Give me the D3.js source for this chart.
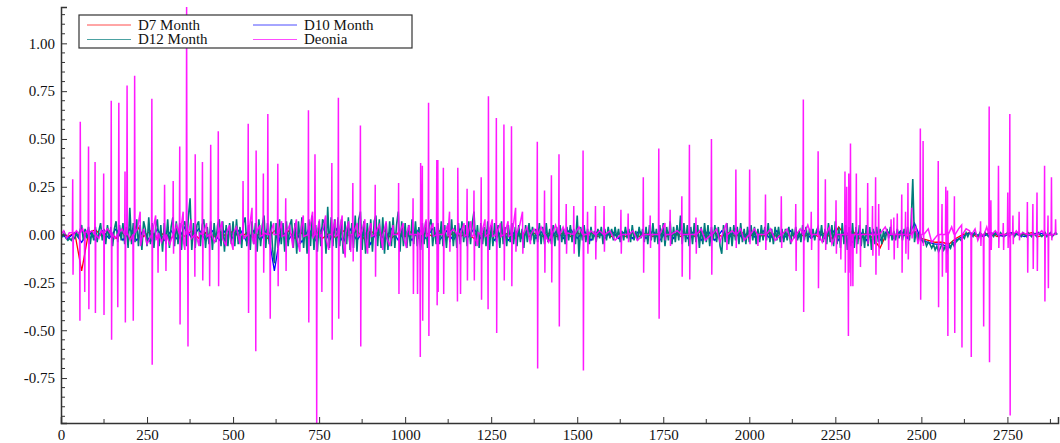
<!DOCTYPE html>
<head>
  <meta charset="utf-8">
  <script src="https://cdn.jsdelivr.net/npm/d3@7"></script>
  <style>
    body { margin: 0; background: #fff; }
    text { font-family: "Liberation Serif", "Times New Roman", Times, "Nimbus Roman", "DejaVu Serif", "Noto Serif", FreeSerif, serif; }
  </style>
</head>
<body>
<script>

// series names and colours, in legend order
var seriesNames = ["D7 Month", "D10 Month", "D12 Month", "Deonia"]
var seriesColors = ["#ff0000", "#0000ff", "#007b7b", "#ff00ff"]

// D7 and D10 sampled every 20 steps, D12 every 5 steps
var d7Step = 20
var d7 = [
  0, -0.01, 0.01, -0.19, 0.01, 0.025, -0.01, 0.02, -0.02, 0.01,
  -0.02, 0.05, -0.01, 0.02, -0.02, 0.01, -0.02, 0.02, -0.01, 0.02,
  -0.02, 0.01, -0.02, 0.02, -0.01, 0.02, -0.02, 0.01, -0.02, 0.01,
  -0.02, 0.02, -0.01, 0.02, -0.02, 0.01, -0.02, 0.02, -0.02, 0.01,
  -0.02, 0.02, -0.01, 0.02, -0.02, 0.02, -0.01, 0.02, -0.02, 0.01,
  -0.01, 0.02, -0.02, 0.01, -0.01, 0.02, -0.02, 0.01, -0.01, 0.01,
  -0.02, 0.01, -0.01, 0.02, -0.01, 0.01, -0.02, 0.01, -0.01, 0.01,
  -0.01, 0.01, -0.01, 0.01, -0.01, 0.01, -0.01, 0.01, -0.01, 0.01,
  -0.01, 0.01, -0.01, 0.01, -0.01, 0.01, -0.01, 0.01, -0.01, 0.01,
  -0.01, 0.01, -0.01, 0.02, -0.01, 0.01, -0.01, 0.01, -0.01, 0.01,
  -0.01, 0.01, -0.01, 0.01, -0.01, 0.01, -0.01, 0.01, -0.01, 0.01,
  -0.01, 0.01, -0.02, 0.04, -0.01, 0.02, -0.02, 0.01, -0.02, -0.07,
  0.01, -0.01, 0.01, -0.01, 0.02, -0.02, -0.03, -0.04, -0.04, -0.05,
  -0.02, 0, 0.01, -0.01, 0, 0.01, -0.01, 0, 0.01, 0,
  0, 0.01, -0.01, 0, 0
]

var d10Step = 20
var d10 = [
  0, -0.02, 0.01, -0.04, 0.02, -0.03, 0.02, -0.02, 0.03, -0.03,
  0.03, -0.03, 0.02, -0.04, 0.03, -0.03, 0.02, -0.03, 0.04, -0.02,
  0.03, -0.03, 0.02, -0.03, 0.03, -0.02, 0.03, -0.04, 0.02, -0.03,
  0.03, -0.19, 0.03, -0.03, 0.02, -0.04, 0.03, -0.03, 0.04, -0.03,
  0.03, -0.04, 0.03, -0.03, 0.02, -0.05, 0.03, -0.03, 0.03, -0.03,
  0.02, -0.03, 0.03, -0.02, 0.03, -0.03, 0.02, -0.03, 0.03, -0.02,
  0.03, -0.02, 0.03, -0.03, 0.02, -0.03, 0.02, -0.02, 0.03, -0.02,
  0.02, -0.03, 0.02, -0.02, 0.03, -0.02, 0.02, -0.03, 0.02, -0.02,
  0.02, -0.02, 0.02, -0.02, 0.02, -0.02, 0.02, -0.03, 0.02, -0.02,
  0.03, -0.02, 0.02, -0.03, 0.02, -0.03, 0.02, -0.02, 0.03, -0.02,
  0.02, -0.02, 0.02, -0.02, 0.02, -0.02, 0.02, -0.02, 0.02, -0.02,
  0.02, -0.02, 0.03, -0.03, 0.02, -0.04, 0.02, -0.03, 0.02, -0.03,
  0.02, -0.02, 0.02, -0.02, 0.06, -0.03, -0.04, -0.05, -0.05, -0.07,
  -0.03, -0.01, 0.01, 0, -0.01, 0.01, 0, -0.01, 0.01, 0,
  -0.01, 0, 0.01, 0, 0
]

var d12Step = 5
var d12 = [
  0, -0.01, 0.01, -0.02, -0.03, -0.02, -0.03, -0.01, -0.02, 0.01, -0.01, 0.02, 0.05, -0.03, 0.03, -0.02, 0.04, -0.05, 0.02, -0.03,
  0.04, -0.04, 0.02, 0.06, -0.03, 0.03, -0.05, 0.05, -0.02, 0.04, -0.06, 0.03, 0.07, -0.04, 0.05, -0.03, 0.06, -0.05, 0.04, -0.07,
  0.14, -0.05, 0.06, -0.04, 0.08, -0.06, 0.05, -0.08, 0.07, 0.03, -0.06, 0.09, -0.05, 0.06, -0.07, 0.04, 0.08, -0.06, 0.05, -0.09,
  0.06, -0.05, 0.08, -0.07, 0.04, 0.09, -0.06, 0.07, -0.05, 0.06, -0.08, 0.05, 0.07, -0.06, 0.09, 0.19, -0.08, 0.06, -0.07, 0.05,
  0.07, -0.06, 0.05, 0.08, -0.07, 0.04, -0.05, 0.07, -0.08, 0.06, -0.04, 0.05, 0.08, -0.06, 0.07, -0.09, 0.05, -0.06, 0.06, -0.05,
  0.07, -0.06, 0.08, -0.05, 0.04, -0.07, 0.06, 0.09, -0.06, 0.05, -0.08, 0.07, -0.05, 0.06, -0.09, 0.08, -0.06, 0.05, 0.1, -0.07,
  0.06, -0.05, 0.07, -0.08, -0.15, 0.06, -0.07, 0.08, -0.05, 0.06, -0.09, 0.07, -0.06, 0.05, 0.08, -0.07, 0.06, -0.1, 0.07, -0.05,
  0.09, -0.07, 0.06, -0.1, 0.08, -0.06, 0.1, -0.08, 0.05, -0.09, 0.07, -0.06, 0.08, 0.06, -0.1, 0.145, -0.07, 0.09, -0.06, 0.08,
  -0.07, 0.09, -0.06, 0.08, -0.1, 0.07, -0.05, 0.09, -0.08, 0.06, -0.07, 0.1, -0.09, 0.08, 0.12, -0.08, 0.07, -0.1, 0.06, -0.07,
  0.08, -0.09, 0.07, 0.1, -0.06, 0.08, -0.07, 0.09, -0.1, 0.06, -0.08, 0.07, -0.06, 0.09, -0.07, 0.05, 0.12, -0.09, 0.07, -0.06,
  0.06, -0.07, 0.05, -0.06, 0.08, -0.05, 0.07, -0.06, 0.04, -0.08, 0.06, -0.05, 0.07, -0.07, 0.05, 0.08, -0.06, 0.04, -0.05, 0.06,
  -0.05, 0.07, -0.06, 0.05, -0.07, 0.06, -0.04, 0.08, -0.06, 0.05, -0.07, 0.06, -0.05, 0.07, -0.04, 0.05, -0.06, 0.07, -0.05, 0.06,
  0.12, -0.06, 0.05, -0.07, 0.06, -0.05, 0.04, -0.06, 0.07, -0.08, 0.05, -0.06, 0.06, -0.04, 0.05, -0.07, 0.07, -0.05, 0.04, -0.06,
  0.05, -0.04, 0.06, -0.05, 0.04, -0.06, 0.05, -0.04, 0.03, -0.07, 0.05, -0.04, 0.06, -0.03, 0.04, -0.05, 0.03, -0.04, 0.06, -0.05,
  0.04, -0.05, 0.06, -0.04, 0.03, -0.05, 0.05, -0.06, 0.04, -0.03, 0.05, -0.04, 0.03, -0.05, 0.04, -0.03, 0.05, -0.04, 0.03, -0.05,
  0.1, -0.115, 0.04, -0.03, 0.05, -0.04, 0.03, -0.05, 0.04, -0.03, 0.02, -0.04, 0.03, -0.02, 0.04, -0.05, 0.03, -0.03, 0.04, -0.02,
  0.03, -0.03, 0.04, -0.02, 0.03, -0.04, 0.02, -0.03, 0.04, -0.02, 0.03, -0.04, 0.05, -0.03, 0.02, -0.03, 0.04, -0.02, 0.03, -0.04,
  0.04, -0.05, 0.05, -0.03, 0.06, -0.04, 0.03, -0.05, 0.05, -0.04, 0.06, -0.06, 0.04, -0.03, 0.07, -0.05, 0.04, -0.04, 0.05, -0.03,
  0.1, -0.05, 0.06, -0.04, 0.05, -0.06, 0.04, -0.05, 0.06, -0.04, 0.05, -0.07, 0.04, -0.05, 0.06, -0.04, 0.05, -0.06, 0.04, -0.03,
  0.05, -0.04, 0.04, -0.06, -0.1, 0.05, -0.04, 0.06, -0.05, 0.04, -0.06, 0.05, -0.03, 0.04, -0.05, 0.06, -0.04, 0.03, -0.05, 0.04,
  -0.04, 0.05, -0.03, 0.04, -0.05, 0.03, -0.04, 0.05, -0.03, 0.04, -0.03, 0.06, -0.04, 0.03, -0.05, 0.04, -0.03, 0.04, -0.04, 0.03,
  -0.04, 0.03, -0.03, 0.04, -0.05, 0.03, -0.02, 0.04, -0.03, 0.02, -0.04, 0.05, -0.03, 0.04, -0.04, 0.03, -0.02, 0.03, -0.03, 0.02,
  0.04, -0.03, 0.05, -0.04, 0.03, -0.05, 0.06, -0.04, 0.05, -0.06, 0.07, -0.05, 0.04, -0.07, 0.06, -0.05, 0.05, -0.08, 0.04, -0.06,
  0.06, -0.07, 0.04, -0.05, 0.05, -0.06, 0.03, -0.07, 0.05, -0.06, 0.04, -0.08, 0.03, -0.05, 0.04, -0.04, 0.03, -0.05, 0.02, -0.03,
  0.03, -0.02, 0.04, -0.03, 0.02, -0.03, 0.03, -0.02, 0.02, -0.03, 0.03, -0.02, 0.04, -0.03, 0.05, 0.29, -0.04, 0.02, -0.03, 0.01,
  -0.02, -0.04, -0.03, -0.06, -0.04, -0.05, -0.07, -0.05, -0.08, -0.06, -0.09, -0.07, -0.05, -0.08, -0.06, -0.09, -0.05, -0.07, -0.04, -0.06,
  -0.04, -0.03, -0.02, -0.03, -0.01, -0.02, 0.01, -0.01, 0.01, 0, -0.01, 0.01, 0, -0.01, 0.01, 0, -0.01, 0.01, 0, -0.01,
  0.01, 0, -0.01, 0.01, 0, -0.01, 0.01, 0, -0.01, 0, 0.01, -0.01, 0, 0.01, -0.01, 0, 0.01, 0, -0.01, 0.01,
  0, -0.01, 0.01, 0, -0.01, 0.01, 0, -0.01, 0.01, 0, -0.01, 0, 0.01, -0.01, 0, 0.01, -0.01, 0, 0.01, 0
]

// Deonia: [step, value], spikes
var deonia = [
  [0,0],[8,0.02],[16,-0.02],[24,0.01],[33,0.01],[34,0.29],[35,-0.21],[36,0],[45,0.02],
  [54,0],[55,-0.45],[56,0.59],[57,0.01],[63,0.03],[68,0],[69,-0.30],[70,0.01],
  [75,0.02],[79,0],[80,0.46],[81,-0.39],[82,0.01],[90,0.02],[98,0],[99,0.38],[100,-0.41],[101,0],
  [110,-0.02],[117,0.02],[123,0],[124,0.32],[125,-0.42],[126,0.01],[135,0.03],[145,0],[146,0.70],[147,-0.55],[148,0.01],
  [156,-0.02],[164,0],[165,-0.38],[166,0],[167,0],[168,0.69],[169,0.01],
  [177,0.03],[185,0],[186,0.33],[187,-0.46],[188,0],[191,0],[192,0.78],[193,0.01],
  [201,-0.03],[209,0],[210,-0.45],[211,0],[213,0],[214,0.83],[215,0.01],
  [222,0.03],[230,0.12],[231,-0.06],[240,0.03],[250,-0.05],[263,0],[264,0.71],[265,-0.68],[266,0.01],
  [275,0.1],[276,-0.03],[281,0],[282,-0.2],[283,0.01],[292,-0.04],
  [300,0],[301,0.26],[302,-0.03],[304,0],[305,-0.19],[306,0],
  [316,-0.05],[325,0],[326,0.28],[327,-0.1],[328,0],[336,0.05],[344,0],[345,0.46],[346,-0.47],[347,0.01],
  [355,0.12],[356,-0.04],[360,-0.08],[361,0.01],[364,0],[365,1.19],[366,0.05],[368,0],[369,-0.585],[370,0],
  [378,0.08],[379,-0.02],[388,0],[389,-0.22],[390,0.42],[391,0.01],
  [401,-0.06],[402,0.01],[410,0],[411,0.38],[412,-0.24],[413,0],
  [423,0.06],[424,-0.01],[431,0],[432,-0.27],[433,0],[434,0],[435,0.47],[436,0.01],
  [446,-0.04],[456,0],[457,0.54],[458,-0.27],[459,0.01],
  [468,0.07],[469,-0.02],[480,-0.06],[481,0.01],[490,0.05],[491,-0.01],[500,-0.08],[501,0.01],[510,0.04],[520,-0.05],[521,0],
  [528,0],[529,0.28],[530,-0.02],[543,0],[544,0.58],[545,-0.41],[546,0.01],
  [555,0.14],[556,-0.02],[560,-0.05],[561,0],[565,0],[566,-0.61],[567,0.44],[568,0.01],
  [578,0.05],[579,-0.01],[587,0],[588,0.32],[589,-0.20],[590,0.01],
  [600,0],[601,0.63],[602,0],[607,0],[608,-0.44],[609,0.01],
  [618,0.06],[619,0],[629,0],[630,0.37],[631,-0.27],[632,0],
  [641,0.07],[642,-0.01],[652,0],[653,0.19],[654,-0.19],[655,0.01],
  [664,0.05],[674,-0.07],[675,0],[684,0.08],[685,-0.01],[694,-0.09],[695,0],[704,0.1],[705,-0.01],
  [718,0],[719,0.65],[720,-0.46],[721,0.01],
  [731,0.12],[732,-0.02],[737,0],[738,0.42],[739,0],[742,0],[743,-0.985],[744,0.01],
  [751,0.08],[752,-0.01],[757,0],[758,-0.30],[759,0.01],[769,0.1],[770,-0.02],[778,-0.08],[779,0],
  [786,0],[787,0.375],[788,-0.55],[789,0.01],[797,0.08],[798,-0.01],[805,0],[806,0.715],[807,-0.44],[808,0],
  [817,0.1],[818,-0.02],[826,-0.12],[827,0.01],[836,0.07],[837,-0.01],[842,-0.09],[843,0],
  [847,0],[848,0.27],[849,-0.14],[850,0.01],[861,0.06],[862,-0.01],[869,0],[870,0.57],[871,-0.585],[872,0],
  [883,0.08],[884,-0.01],[891,-0.1],[892,0.01],[901,0.06],[902,-0.01],[912,0],[913,0.26],[914,-0.22],[915,0.01],
  [925,0.05],[935,-0.08],[936,0],[945,0.07],[946,-0.01],[955,-0.06],[965,0.05],[966,0],
  [980,0],[981,0.27],[982,-0.31],[983,0],[994,0.06],[995,-0.01],[1004,-0.07],[1005,0.01],[1012,0.05],[1013,0],
  [1022,0],[1023,0.19],[1024,-0.31],[1025,0],[1035,0],[1036,-0.31],[1037,0.01],
  [1043,0],[1044,-0.64],[1045,0.375],[1046,0.01],[1049,0],[1050,0.36],[1051,-0.45],[1052,0],
  [1061,0.08],[1062,-0.01],[1067,0],[1068,0.69],[1069,-0.53],[1070,0.01],
  [1081,0.06],[1082,-0.01],[1091,0],[1092,0.39],[1093,-0.37],[1094,0],[1095,0.39],[1096,-0.30],[1097,0],
  [1110,0],[1111,0.35],[1112,-0.31],[1113,0],[1123,0.05],[1124,-0.01],[1129,0.12],[1130,-0.09],[1131,0.01],[1140,0.03],
  [1151,0],[1152,-0.35],[1153,0.35],[1154,0.01],[1160,0],[1161,-0.31],[1162,0.01],
  [1171,0.06],[1172,-0.01],[1179,0],[1180,0.24],[1181,-0.24],[1182,0],
  [1191,0.07],[1192,-0.01],[1199,0],[1200,0.23],[1201,-0.24],[1202,0],
  [1211,-0.06],[1212,0.01],[1220,0],[1221,0.30],[1222,-0.34],[1223,0.01],
  [1232,0.08],[1233,-0.01],[1240,0],[1241,-0.39],[1242,0.724],[1243,0],
  [1253,0.08],[1254,-0.01],[1264,0],[1265,0.61],[1266,-0.515],[1267,0.01],
  [1277,0.06],[1278,-0.01],[1286,0],[1287,0.576],[1288,-0.24],[1289,0],
  [1299,0.07],[1300,-0.01],[1308,0],[1309,0.567],[1310,-0.27],[1311,0],
  [1321,0.14],[1322,-0.09],[1323,0],[1333,0.05],[1341,0.12],[1342,-0.1],[1343,0],
  [1354,0.04],[1364,-0.05],[1365,0],[1374,0.03],[1383,0],[1384,0.485],[1385,-0.70],[1386,0],
  [1395,0.04],[1404,0],[1405,0.23],[1406,-0.20],[1407,0],[1417,-0.04],[1424,0],[1425,0.31],[1426,-0.25],[1427,0],
  [1437,0.05],[1446,0],[1447,0.42],[1448,-0.48],[1449,0],[1459,0.04],[1467,0],[1468,0.16],[1469,-0.10],[1470,0.01],
  [1489,0],[1490,0.15],[1491,-0.10],[1492,0],[1505,0.04],[1516,0],[1517,0.44],[1518,-0.71],[1519,0],
  [1529,0],[1530,0.12],[1531,-0.10],[1532,0],[1540,0.02],[1552,0],[1553,0.15],[1554,-0.13],[1555,0],[1565,0.02],
  [1577,0],[1578,0.15],[1579,-0.09],[1580,0],[1595,0.02],[1610,-0.03],[1626,0],[1627,0.13],[1628,-0.10],[1629,0],
  [1647,0],[1648,0.11],[1649,-0.04],[1650,0],[1662,0.02],[1675,-0.03],[1691,0],[1692,0.30],[1693,-0.20],[1694,0],
  [1711,0],[1712,0.10],[1713,-0.07],[1714,0],[1736,0],[1737,0.45],[1738,-0.44],[1739,0],
  [1755,0.06],[1756,-0.03],[1757,0],[1769,0],[1770,0.13],[1771,-0.06],[1772,0],
  [1790,0.02],[1803,0],[1804,0.20],[1805,-0.22],[1806,0],[1825,0],[1826,0.47],[1827,-0.235],[1828,0],
  [1844,0],[1845,0.09],[1846,-0.10],[1847,0],[1860,0.03],[1872,-0.03],[1889,0],[1890,0.50],[1891,-0.21],[1892,0],
  [1905,0.03],[1915,-0.04],[1925,0.02],[1934,0.06],[1935,-0.08],[1936,0],[1950,0.02],
  [1960,0],[1961,0.34],[1962,-0.07],[1963,0],[1975,0.03],[1985,-0.03],[2000,0],[2001,0.34],[2002,-0.05],[2003,0],
  [2015,0.03],[2024,0],[2025,-0.06],[2026,0],[2046,0],[2047,0.21],[2048,-0.08],[2049,0],
  [2062,0.03],[2075,-0.03],[2092,0],[2093,0.20],[2094,-0.07],[2095,0],[2110,0.03],[2122,-0.04],
  [2134,0],[2135,0.16],[2136,-0.19],[2137,0],[2148,0.03],[2156,0],[2157,0.707],[2158,-0.405],[2159,0],
  [2170,0.05],[2179,0],[2180,0.12],[2181,-0.08],[2182,0],[2199,0],[2200,0.436],[2201,-0.28],[2202,0],
  [2212,-0.04],[2220,0],[2221,0.29],[2222,-0.08],[2223,0],
  [2233,0.04],[2240,-0.05],[2251,0],[2252,0.18],[2253,-0.10],[2254,0],[2265,0],[2266,-0.13],[2267,0],
  [2277,0],[2278,0.33],[2279,-0.20],[2280,0],[2282,0],[2283,0.25],[2284,0],
  [2287,0],[2288,-0.53],[2289,0.32],[2290,-0.20],[2291,0],[2293,0],[2294,0.476],[2295,-0.27],[2296,0],
  [2300,0],[2301,-0.27],[2302,0],[2310,0],[2311,0.32],[2312,-0.10],[2313,0],[2321,0],[2322,0.14],[2323,-0.17],[2324,0],
  [2343,0],[2344,0.27],[2345,-0.05],[2346,0],[2357,0],[2358,0.15],[2359,-0.11],[2360,0],
  [2366,0],[2367,0.30],[2368,-0.21],[2369,0],[2375,0],[2376,0.16],[2377,-0.11],[2378,0],
  [2395,0.04],[2404,0],[2405,-0.08],[2406,0],[2411,0],[2412,0.08],[2413,0],
  [2419,0],[2420,0.09],[2421,-0.13],[2422,0],[2429,0],[2430,0.11],[2431,-0.07],[2432,0],
  [2442,0],[2443,0.21],[2444,-0.20],[2445,0],[2453,0],[2454,0.12],[2455,-0.10],[2456,0],
  [2460,0],[2461,0.27],[2462,-0.13],[2463,0],[2471,0],[2472,0.14],[2473,-0.02],[2474,0],
  [2484,0.04],[2490,-0.05],[2496,0],[2497,0.555],[2498,-0.34],[2499,0],[2504,0],[2505,0.49],[2506,-0.06],[2507,0],
  [2520,0.03],[2530,-0.04],[2548,0],[2549,0.385],[2550,-0.38],[2551,0],[2559,0],[2560,0.16],[2561,-0.22],[2562,0],
  [2570,0],[2571,0.25],[2572,-0.20],[2573,0],[2575,0],[2576,0.23],[2577,-0.53],[2578,0],
  [2588,0.04],[2595,0],[2596,0.20],[2597,-0.515],[2598,0],[2608,0.03],[2617,0.05],[2618,-0.59],[2619,0],
  [2630,0.03],[2640,0.02],[2644,0],[2645,-0.64],[2646,0],[2656,0.03],[2664,-0.03],[2671,0],[2672,0.07],[2673,-0.06],[2674,0],
  [2680,0],[2681,-0.48],[2682,0],[2690,0.04],[2696,0],[2697,0.67],[2698,-0.667],[2699,0],[2701,0],[2702,0.18],[2703,-0.08],[2704,0],
  [2715,0.02],[2723,0],[2724,0.36],[2725,-0.07],[2726,0],[2737,0],[2738,0.06],[2739,-0.08],[2740,0],
  [2750,0],[2751,0.22],[2752,-0.07],[2753,0],[2756,0],[2757,0.63],[2758,-0.946],[2759,0],
  [2765,0],[2766,0.10],[2767,-0.05],[2768,0],[2776,0.02],[2783,0],[2784,0.12],[2785,-0.03],[2786,0],[2795,0.01],
  [2807,0],[2808,0.17],[2809,-0.20],[2810,0],[2823,0],[2824,0.16],[2825,-0.18],[2826,0],
  [2835,0],[2836,0.22],[2837,-0.19],[2838,0],[2850,0.02],[2857,0],[2858,0.36],[2859,-0.35],[2860,0],
  [2867,0],[2868,0.10],[2869,-0.28],[2870,0],[2877,0],[2878,0.30],[2879,-0.03],[2880,0],[2889,0],[2890,0.08],[2891,0]
]

var xTicks = [0, 250, 500, 750, 1000, 1250, 1500, 1750, 2000, 2250, 2500, 2750]
var yTicks = [-0.75, -0.5, -0.25, 0, 0.25, 0.5, 0.75, 1.0]

var margin = {top: 7, right: 2, bottom: 20, left: 61}
var width = 1060 - margin.left - margin.right
var height = 443 - margin.top - margin.bottom

var svg = d3.select("body").append("svg")
            .attr("width", 1060)
            .attr("height", 443)
var g = svg.append("g")
           .attr("transform", "translate(" + margin.left + "," + margin.top + ")")

var x = d3.scaleLinear().domain([0, 2897]).range([0, width])
var y = d3.scaleLinear().domain([-0.985, 1.19]).range([height, 0])

function toPairs(vals, step) {
  return vals.map(function(v, i) { return [i * step, v] })
}

var series = [toPairs(d7, d7Step), toPairs(d10, d10Step), toPairs(d12, d12Step), deonia]

g.append("clipPath").attr("id", "plot")
 .append("rect").attr("y", -7).attr("width", width).attr("height", height + 7)

var line = d3.line()
             .x(function(d) { return x(d[0]) })
             .y(function(d) { return y(d[1]) })

g.append("g").attr("clip-path", "url(#plot)")
 .selectAll("path")
 .data(series)
 .enter()
 .append("path")
 .attr("d", line)
 .attr("fill", "none")
 .attr("stroke", function(d, i) { return seriesColors[i] })
 .attr("stroke-width", function(d, i) { return i == 3 ? 1.5 : (i == 2 ? 1.6 : 1.3) })
 .attr("stroke-opacity", function(d, i) { return i == 3 ? 0.9 : 1 })

// axes: ticks point inward, minor ticks between the labelled ones
var yMinor = d3.range(-0.95, 1.19, 0.05).filter(function(v) {
  return Math.abs(Math.round(v * 4) - v * 4) > 0.01
})
var xMinor = d3.range(125, 2897, 250)

var yAxis = g.append("g")
yAxis.call(d3.axisLeft(y).tickValues(yTicks).tickSize(-6).tickPadding(6)
             .tickFormat(function(d) { return d.toFixed(2) }))
yAxis.append("g").selectAll("line").data(yMinor).enter().append("line")
     .attr("x1", 0).attr("x2", 4)
     .attr("y1", function(d) { return y(d) }).attr("y2", function(d) { return y(d) })
     .attr("stroke", "#333")

var xAxis = g.append("g").attr("transform", "translate(0," + height + ")")
xAxis.call(d3.axisBottom(x).tickValues(xTicks).tickSize(-6).tickPadding(6)
             .tickFormat(d3.format("d")))
xAxis.append("g").selectAll("line").data(xMinor).enter().append("line")
     .attr("x1", function(d) { return x(d) }).attr("x2", function(d) { return x(d) })
     .attr("y1", 0).attr("y2", -4)
     .attr("stroke", "#333")

svg.selectAll(".domain").attr("stroke", "#333").attr("stroke-width", 1.5)
svg.selectAll(".tick line").attr("stroke", "#333")
svg.selectAll(".tick text")
   .attr("font-size", 15)
   .attr("fill", "#111")

// legend
var legend = svg.append("g").attr("transform", "translate(79,15)")
legend.append("rect")
      .attr("width", 333).attr("height", 33)
      .attr("fill", "#fff").attr("stroke", "#333").attr("stroke-width", 1.2)

var items = legend.selectAll(".item")
  .data(seriesNames)
  .enter()
  .append("g")
  .attr("transform", function(d, i) {
    return "translate(" + (i % 2 ? 174 : 8) + "," + (i < 2 ? 10 : 24.5) + ")"
  })
items.append("line")
     .attr("x1", 0).attr("x2", 44)
     .attr("stroke", function(d, i) { return seriesColors[i] })
     .attr("stroke-opacity", 0.7)
items.append("text")
     .attr("x", 51).attr("y", 4.5)
     .attr("font-size", 15)
     .attr("fill", "#111")
     .text(function(d) { return d })

</script>
</body>
